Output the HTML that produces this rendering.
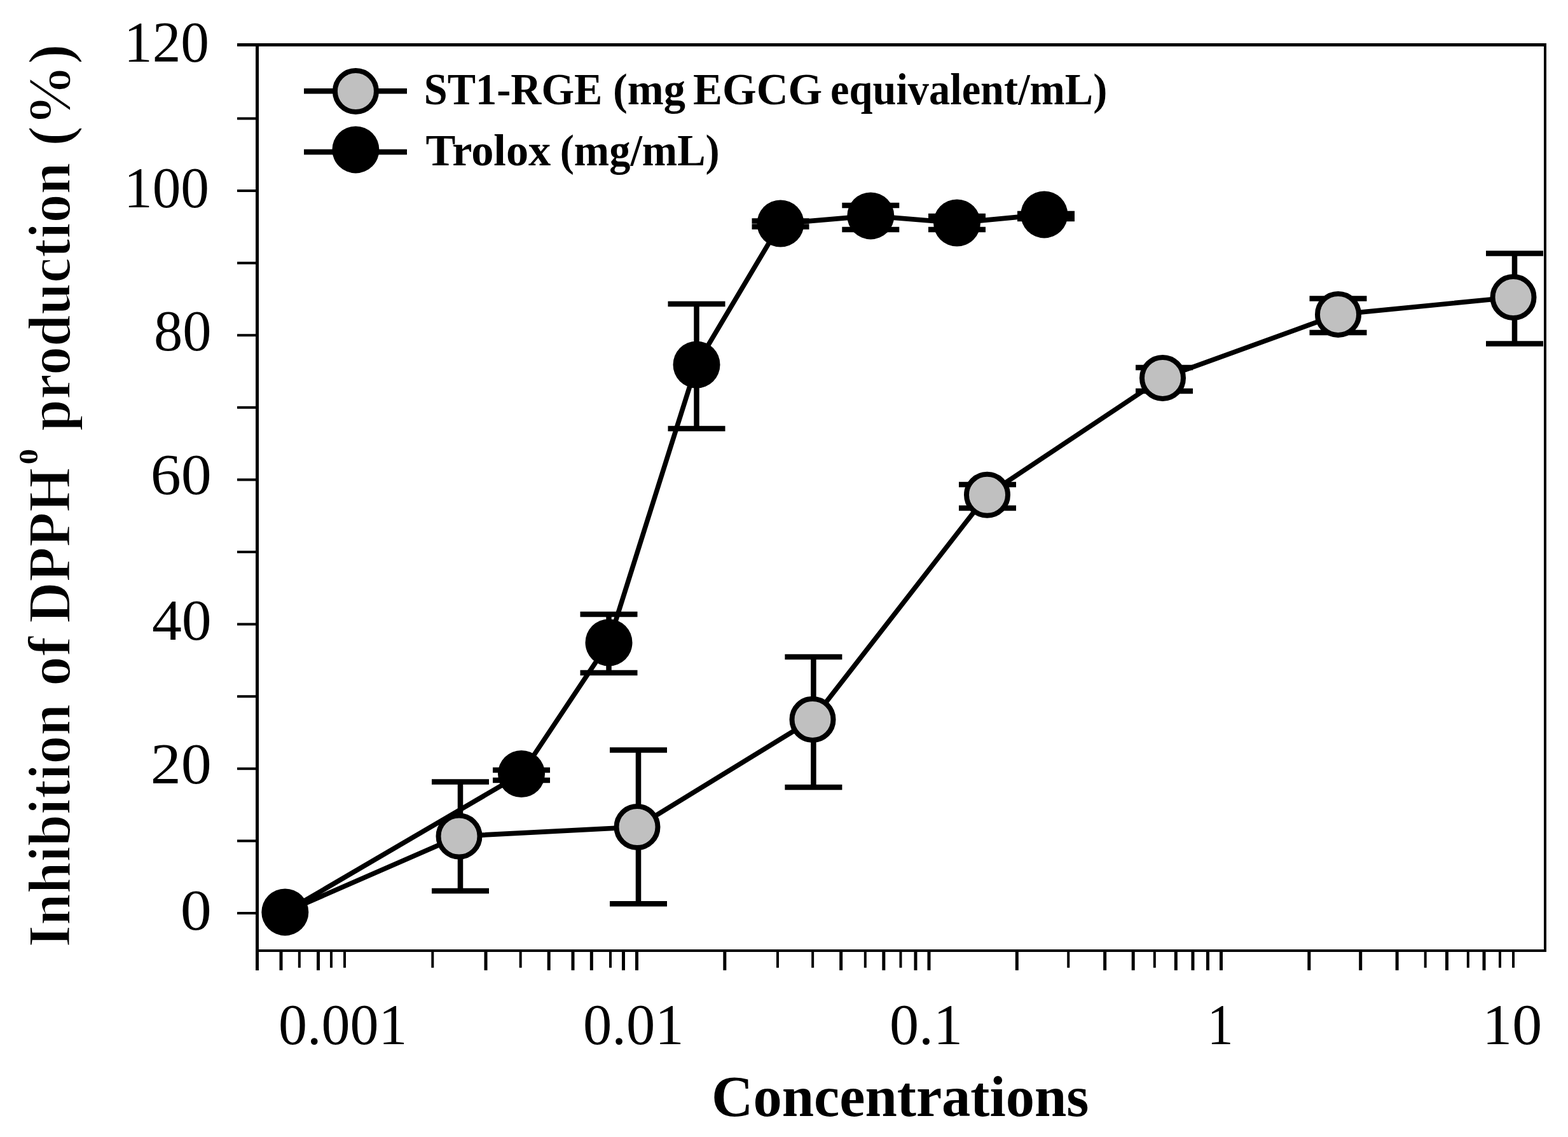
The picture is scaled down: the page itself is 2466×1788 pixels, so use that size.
<!DOCTYPE html>
<html><head><meta charset="utf-8"><title>DPPH inhibition chart</title>
<style>html,body{margin:0;padding:0;background:#fff;}svg{display:block;}</style></head>
<body><svg width="2466" height="1788" viewBox="0 0 2466 1788"><rect x="0" y="0" width="2466" height="1788" fill="#fff"/>
<g fill="#000">
<rect x="373" y="68" width="2059" height="5"/>
<rect x="2428" y="68" width="4" height="1429"/>
<rect x="402" y="1493" width="2030" height="4"/>
<rect x="402" y="68" width="5" height="1458"/>
<rect x="373" y="1434.00" width="30" height="4"/>
<rect x="373" y="1320.40" width="30" height="4"/>
<rect x="373" y="1206.80" width="30" height="4"/>
<rect x="373" y="1093.20" width="30" height="4"/>
<rect x="373" y="979.60" width="30" height="4"/>
<rect x="373" y="866.00" width="30" height="4"/>
<rect x="373" y="752.40" width="30" height="4"/>
<rect x="373" y="638.80" width="30" height="4"/>
<rect x="373" y="525.20" width="30" height="4"/>
<rect x="373" y="411.60" width="30" height="4"/>
<rect x="373" y="298.00" width="30" height="4"/>
<rect x="373" y="184.40" width="30" height="4"/>
<rect x="439.50" y="1495" width="5" height="30.8"/>
<rect x="468.82" y="1495" width="4" height="26.8"/>
<rect x="498.00" y="1495" width="5" height="30.8"/>
<rect x="518.97" y="1495" width="4" height="26.8"/>
<rect x="540.00" y="1495" width="4" height="26.8"/>
<rect x="678.32" y="1495" width="4" height="26.8"/>
<rect x="761.50" y="1495" width="5" height="30.8"/>
<rect x="816.65" y="1495" width="4" height="26.8"/>
<rect x="860.68" y="1495" width="5" height="30.8"/>
<rect x="898.50" y="1495" width="5" height="30.8"/>
<rect x="927.82" y="1495" width="5" height="30.8"/>
<rect x="958.00" y="1495" width="4" height="26.8"/>
<rect x="977.97" y="1495" width="5" height="30.8"/>
<rect x="999.00" y="1495" width="5" height="30.8"/>
<rect x="1137.32" y="1495" width="5" height="30.8"/>
<rect x="1221.00" y="1495" width="4" height="26.8"/>
<rect x="1276.15" y="1495" width="4" height="26.8"/>
<rect x="1320.18" y="1495" width="5" height="30.8"/>
<rect x="1358.80" y="1495" width="4" height="26.8"/>
<rect x="1387.32" y="1495" width="5" height="30.8"/>
<rect x="1414.47" y="1495" width="4" height="26.8"/>
<rect x="1437.47" y="1495" width="5" height="30.8"/>
<rect x="1458.50" y="1495" width="5" height="30.8"/>
<rect x="1596.82" y="1495" width="5" height="30.8"/>
<rect x="1678.24" y="1495" width="4" height="26.8"/>
<rect x="1735.15" y="1495" width="5" height="30.8"/>
<rect x="1779.68" y="1495" width="5" height="30.8"/>
<rect x="1813.80" y="1495" width="4" height="26.8"/>
<rect x="1846.82" y="1495" width="5" height="30.8"/>
<rect x="1873.47" y="1495" width="5" height="30.8"/>
<rect x="1896.97" y="1495" width="5" height="30.8"/>
<rect x="1918.00" y="1495" width="5" height="30.8"/>
<rect x="2056.32" y="1495" width="5" height="30.8"/>
<rect x="2137.24" y="1495" width="5" height="30.8"/>
<rect x="2194.65" y="1495" width="5" height="30.8"/>
<rect x="2239.68" y="1495" width="4" height="26.8"/>
<rect x="2273.00" y="1495" width="5" height="30.8"/>
<rect x="2306.82" y="1495" width="4" height="26.8"/>
<rect x="2331.50" y="1495" width="5" height="30.8"/>
<rect x="2356.97" y="1495" width="4" height="26.8"/>
<rect x="2378.00" y="1495" width="4" height="26.8"/>
</g>
<polyline points="448.3,1434.4 722,1315 1002,1300.5 1278,1131.4 1552.5,778.3 1828.5,594.4 2104.5,494.4 2380,467.5" fill="none" stroke="#000" stroke-width="7.6" stroke-linejoin="miter"/>
<polyline points="448.3,1434.4 820,1217 957.5,1010.5 1095.5,573.5 1227.5,351.5 1369.3,339.4 1505,350.5 1642.3,337.4" fill="none" stroke="#000" stroke-width="7.6" stroke-linejoin="miter"/>
<g stroke="#000" stroke-width="8.5" fill="none">
<line x1="724" y1="1229.5" x2="724" y2="1401"/><line x1="679.0" y1="1229.5" x2="769.0" y2="1229.5"/><line x1="679.0" y1="1401" x2="769.0" y2="1401"/>
<line x1="1004" y1="1179.5" x2="1004" y2="1421.3"/><line x1="959.0" y1="1179.5" x2="1049.0" y2="1179.5"/><line x1="959.0" y1="1421.3" x2="1049.0" y2="1421.3"/>
<line x1="1279.4" y1="1033" x2="1279.4" y2="1238"/><line x1="1234.4" y1="1033" x2="1324.4" y2="1033"/><line x1="1234.4" y1="1238" x2="1324.4" y2="1238"/>
<line x1="1553" y1="762" x2="1553" y2="799"/><line x1="1508.0" y1="762" x2="1598.0" y2="762"/><line x1="1508.0" y1="799" x2="1598.0" y2="799"/>
<line x1="1831" y1="578" x2="1831" y2="615"/><line x1="1786.0" y1="578" x2="1876.0" y2="578"/><line x1="1786.0" y1="615" x2="1876.0" y2="615"/>
<line x1="2104.5" y1="469.5" x2="2104.5" y2="523"/><line x1="2059.5" y1="469.5" x2="2149.5" y2="469.5"/><line x1="2059.5" y1="523" x2="2149.5" y2="523"/>
<line x1="2382" y1="398.6" x2="2382" y2="540.4"/><line x1="2337.0" y1="398.6" x2="2427.0" y2="398.6"/><line x1="2337.0" y1="540.4" x2="2427.0" y2="540.4"/>
<line x1="820" y1="1211" x2="820" y2="1227"/><line x1="775.0" y1="1211" x2="865.0" y2="1211"/><line x1="775.0" y1="1227" x2="865.0" y2="1227"/>
<line x1="957.5" y1="966" x2="957.5" y2="1058"/><line x1="912.5" y1="966" x2="1002.5" y2="966"/><line x1="912.5" y1="1058" x2="1002.5" y2="1058"/>
<line x1="1095.5" y1="478" x2="1095.5" y2="674"/><line x1="1050.5" y1="478" x2="1140.5" y2="478"/><line x1="1050.5" y1="674" x2="1140.5" y2="674"/>
<line x1="1227.5" y1="347.5" x2="1227.5" y2="356.5"/><line x1="1182.5" y1="347.5" x2="1272.5" y2="347.5"/><line x1="1182.5" y1="356.5" x2="1272.5" y2="356.5"/>
<line x1="1369.3" y1="323" x2="1369.3" y2="361"/><line x1="1324.3" y1="323" x2="1414.3" y2="323"/><line x1="1324.3" y1="361" x2="1414.3" y2="361"/>
<line x1="1505" y1="340" x2="1505" y2="361"/><line x1="1460.0" y1="340" x2="1550.0" y2="340"/><line x1="1460.0" y1="361" x2="1550.0" y2="361"/>
<line x1="1645" y1="336" x2="1645" y2="344"/><line x1="1600.0" y1="336" x2="1690.0" y2="336"/><line x1="1600.0" y1="344" x2="1690.0" y2="344"/>
</g>
<circle cx="722" cy="1315" r="32.5" fill="#c0c0c0" stroke="#000" stroke-width="8"/>
<circle cx="1002" cy="1300.5" r="32.5" fill="#c0c0c0" stroke="#000" stroke-width="8"/>
<circle cx="1278" cy="1131.4" r="32.5" fill="#c0c0c0" stroke="#000" stroke-width="8"/>
<circle cx="1552.5" cy="778.3" r="32.5" fill="#c0c0c0" stroke="#000" stroke-width="8"/>
<circle cx="1828.5" cy="594.4" r="32.5" fill="#c0c0c0" stroke="#000" stroke-width="8"/>
<circle cx="2104.5" cy="494.4" r="32.5" fill="#c0c0c0" stroke="#000" stroke-width="8"/>
<circle cx="2380" cy="467.5" r="32.5" fill="#c0c0c0" stroke="#000" stroke-width="8"/>
<circle cx="448.3" cy="1434.4" r="37" fill="#000"/>
<circle cx="820" cy="1217" r="37" fill="#000"/>
<circle cx="957.5" cy="1010.5" r="37" fill="#000"/>
<circle cx="1095.5" cy="573.5" r="37" fill="#000"/>
<circle cx="1227.5" cy="351.5" r="37" fill="#000"/>
<circle cx="1369.3" cy="339.4" r="37" fill="#000"/>
<circle cx="1505" cy="350.5" r="37" fill="#000"/>
<circle cx="1642.3" cy="337.4" r="37" fill="#000"/>
<line x1="478" y1="143.3" x2="640" y2="143.3" stroke="#000" stroke-width="8.5"/>
<circle cx="559.4" cy="143.5" r="32.5" fill="#c0c0c0" stroke="#000" stroke-width="8"/>
<line x1="478" y1="239" x2="640" y2="239" stroke="#000" stroke-width="8.5"/>
<circle cx="559.4" cy="235.4" r="37" fill="#000"/>
<text x="195.06" y="96.5" font-family="'Liberation Serif', 'Times New Roman', serif" font-size="90" font-weight="normal" textLength="133.91" lengthAdjust="spacingAndGlyphs">120</text>
<text x="195.06" y="325.8" font-family="'Liberation Serif', 'Times New Roman', serif" font-size="90" font-weight="normal" textLength="133.91" lengthAdjust="spacingAndGlyphs">100</text>
<text x="241.98" y="551.2" font-family="'Liberation Serif', 'Times New Roman', serif" font-size="90" font-weight="normal" textLength="90.54" lengthAdjust="spacingAndGlyphs">80</text>
<text x="236.73" y="776.8" font-family="'Liberation Serif', 'Times New Roman', serif" font-size="90" font-weight="normal" textLength="95.96" lengthAdjust="spacingAndGlyphs">60</text>
<text x="238.92" y="1006.2" font-family="'Liberation Serif', 'Times New Roman', serif" font-size="90" font-weight="normal" textLength="93.71" lengthAdjust="spacingAndGlyphs">40</text>
<text x="236.73" y="1232.2" font-family="'Liberation Serif', 'Times New Roman', serif" font-size="90" font-weight="normal" textLength="95.96" lengthAdjust="spacingAndGlyphs">20</text>
<text x="283.73" y="1462" font-family="'Liberation Serif', 'Times New Roman', serif" font-size="90" font-weight="normal" textLength="49.04" lengthAdjust="spacingAndGlyphs">0</text>
<text x="438.0" y="1641.5" font-family="'Liberation Serif', 'Times New Roman', serif" font-size="90" font-weight="normal" textLength="202.5" lengthAdjust="spacingAndGlyphs">0.001</text>
<text x="916.98" y="1641.5" font-family="'Liberation Serif', 'Times New Roman', serif" font-size="90" font-weight="normal" textLength="158.56" lengthAdjust="spacingAndGlyphs">0.01</text>
<text x="1398.93" y="1641.5" font-family="'Liberation Serif', 'Times New Roman', serif" font-size="90" font-weight="normal" textLength="115.2" lengthAdjust="spacingAndGlyphs">0.1</text>
<text x="1898.75" y="1641.5" font-family="'Liberation Serif', 'Times New Roman', serif" font-size="90" font-weight="normal" textLength="40.78" lengthAdjust="spacingAndGlyphs">1</text>
<text x="2331.15" y="1641.5" font-family="'Liberation Serif', 'Times New Roman', serif" font-size="90" font-weight="normal" textLength="93.99" lengthAdjust="spacingAndGlyphs">10</text>
<text x="1119.02" y="1755" font-family="'Liberation Serif', 'Times New Roman', serif" font-size="91" font-weight="bold" textLength="593.5" lengthAdjust="spacingAndGlyphs">Concentrations</text>
<text x="666.7" y="163.5" font-family="'Liberation Serif', 'Times New Roman', serif" font-size="70" font-weight="bold" textLength="280.74" lengthAdjust="spacingAndGlyphs">ST1-RGE</text>
<text x="964.07" y="163.5" font-family="'Liberation Serif', 'Times New Roman', serif" font-size="70" font-weight="bold" textLength="114.04" lengthAdjust="spacingAndGlyphs">(mg</text>
<text x="1090.01" y="163.5" font-family="'Liberation Serif', 'Times New Roman', serif" font-size="70" font-weight="bold" textLength="203.09" lengthAdjust="spacingAndGlyphs">EGCG</text>
<text x="1306.1" y="163.5" font-family="'Liberation Serif', 'Times New Roman', serif" font-size="70" font-weight="bold" textLength="435.15" lengthAdjust="spacingAndGlyphs">equivalent/mL)</text>
<text x="669.49" y="259.5" font-family="'Liberation Serif', 'Times New Roman', serif" font-size="70" font-weight="bold" textLength="196.76" lengthAdjust="spacingAndGlyphs">Trolox</text>
<text x="880.65" y="259.5" font-family="'Liberation Serif', 'Times New Roman', serif" font-size="70" font-weight="bold" textLength="251.07" lengthAdjust="spacingAndGlyphs">(mg/mL)</text>
<text transform="translate(110,1489.82) rotate(-90)" x="0" y="0" font-family="'Liberation Serif', 'Times New Roman', serif" font-size="95" font-weight="bold" textLength="382.87" lengthAdjust="spacingAndGlyphs" stroke="#fff" stroke-width="2.0">Inhibition</text>
<text transform="translate(110,1078.95) rotate(-90)" x="0" y="0" font-family="'Liberation Serif', 'Times New Roman', serif" font-size="95" font-weight="bold" textLength="78.1" lengthAdjust="spacingAndGlyphs" stroke="#fff" stroke-width="2.0">of</text>
<text transform="translate(110,979.89) rotate(-90)" x="0" y="0" font-family="'Liberation Serif', 'Times New Roman', serif" font-size="95" font-weight="bold" textLength="244.37" lengthAdjust="spacingAndGlyphs" stroke="#fff" stroke-width="2.0">DPPH</text>
<text transform="translate(110,677.94) rotate(-90)" x="0" y="0" font-family="'Liberation Serif', 'Times New Roman', serif" font-size="95" font-weight="bold" textLength="422.38" lengthAdjust="spacingAndGlyphs" stroke="#fff" stroke-width="2.0">production</text>
<text transform="translate(110,230.07) rotate(-90)" x="0" y="0" font-family="'Liberation Serif', 'Times New Roman', serif" font-size="95" font-weight="bold" textLength="160.92" lengthAdjust="spacingAndGlyphs" stroke="#fff" stroke-width="2.0">(%)</text>
<text transform="translate(59.4,730.16) rotate(-90)" x="0" y="0" font-family="'Liberation Serif', 'Times New Roman', serif" font-size="42" font-weight="bold" textLength="24.32" lengthAdjust="spacingAndGlyphs">0</text></svg></body></html>
